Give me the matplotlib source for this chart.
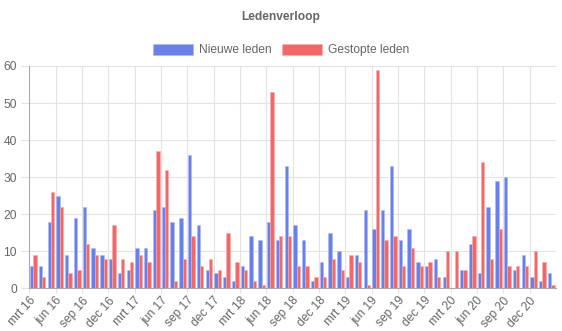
import matplotlib
matplotlib.use("Agg")
from matplotlib import pyplot as plt
from matplotlib.patches import Patch
import numpy as np

# maandelijkse aantallen, mrt 2016 t/m feb 2021
nieuwe_leden = [6, 6, 18, 25, 9, 19, 22, 11, 9, 8, 4, 5,
                11, 11, 21, 22, 18, 19, 36, 17, 5, 4, 3, 2,
                6, 14, 13, 18, 13, 33, 17, 13, 2, 7, 15, 10,
                3, 9, 21, 16, 21, 33, 13, 16, 7, 6, 8, 3,
                0, 5, 12, 4, 22, 29, 30, 5, 9, 3, 2, 4]
gestopte_leden = [9, 3, 26, 22, 4, 5, 12, 9, 8, 17, 8, 7,
                  9, 7, 37, 32, 2, 8, 14, 6, 8, 5, 15, 7,
                  5, 2, 1, 53, 14, 14, 6, 6, 3, 3, 8, 5,
                  9, 7, 1, 59, 13, 14, 6, 11, 6, 7, 3, 10,
                  10, 5, 14, 34, 8, 16, 6, 6, 6, 10, 7, 1]
tick_labels = ["mrt 16", "jun 16", "sep 16", "dec 16",
               "mrt 17", "jun 17", "sep 17", "dec 17",
               "mrt 18", "jun 18", "sep 18", "dec 18",
               "mrt 19", "jun 19", "sep 19", "dec 19",
               "mrt 20", "jun 20", "sep 20", "dec 20"]

BLUE = "#6780EA"
RED = "#F56767"
TXT = "#666666"
GRID = "#E3E3E3"
FS = 8.64  # 12px

plt.rcParams["font.family"] = ["Liberation Sans", "DejaVu Sans"]

fig = plt.figure(figsize=(5.62, 3.31), dpi=100)
W, H = 562, 331
x0, x1, ytop, ybot = 29.3, 556.0, 66.0, 288.3
ax = fig.add_axes([x0 / W, 1 - ybot / H, (x1 - x0) / W, (ybot - ytop) / H])

x = np.arange(len(nieuwe_leden))
bw = 0.38
ax.bar(x + 0.27, nieuwe_leden, width=bw, color=BLUE, edgecolor="#AEBBF3",
       linewidth=0.4, zorder=3)
ax.bar(x + 0.65, gestopte_leden, width=bw, color=RED, edgecolor="#F9AEAE",
       linewidth=0.4, zorder=3)

ax.set_xlim(0, len(nieuwe_leden))
ax.set_ylim(0, 60)
ax.set_yticks(range(0, 61, 10))
ax.set_xticks(np.arange(0, len(nieuwe_leden), 3))
ax.set_xticklabels(tick_labels, rotation=48, ha="right", va="top",
                   rotation_mode="anchor")

ax.grid(True, color=GRID, linewidth=0.8, zorder=0)
ax.tick_params(axis="y", colors=GRID, length=5.8, width=0.8,
               labelcolor=TXT, labelsize=FS, pad=3)
ax.tick_params(axis="x", colors=GRID, length=3.6, width=0.8,
               labelcolor=TXT, labelsize=FS, pad=1)
for s in ["top", "right"]:
    ax.spines[s].set_visible(False)
for s in ["left", "bottom"]:
    ax.spines[s].set_color("#AAAAAA")
    ax.spines[s].set_linewidth(0.8)

fig.text(0.5, 1 - 17 / H, "Ledenverloop", ha="center", va="center",
         fontsize=FS, fontweight="bold", color=TXT)

handles = [Patch(facecolor=BLUE, edgecolor="#AEBBF3", linewidth=0.5, label="Nieuwe leden"),
           Patch(facecolor=RED, edgecolor="#F9AEAE", linewidth=0.5, label="Gestopte leden")]
fig.legend(handles=handles, loc="center", bbox_to_anchor=(0.5, 1 - 50 / H),
           ncol=2, frameon=False, fontsize=FS, labelcolor=TXT,
           handlelength=3.33, handleheight=1.0, handletextpad=0.5,
           columnspacing=0.9)

fig.savefig("out.png", dpi=100)
